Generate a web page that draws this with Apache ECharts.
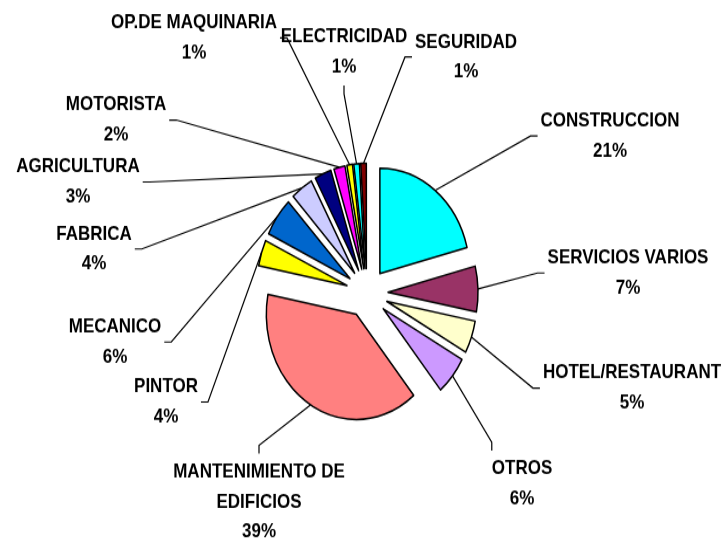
<!DOCTYPE html>
<html><head><meta charset="utf-8">
<script src="https://cdn.jsdelivr.net/npm/echarts@6/dist/echarts.min.js"></script>
<style>html,body{margin:0;padding:0;background:#fff;overflow:hidden}
#wrap{width:727px;height:543px;overflow:hidden;background:#fff}
#c{width:727px;height:464px;transform:scaleY(1.1703);transform-origin:0 0}</style>
</head><body><div id="wrap"><div id="c"></div></div>
<script>
// ---- data ----
const categories = ['CONSTRUCCION','SERVICIOS VARIOS','HOTEL/RESTAURANT','OTROS','MANTENIMIENTO DE\nEDIFICIOS','PINTOR','MECANICO','FABRICA','AGRICULTURA','MOTORISTA','OP.DE MAQUINARIA','ELECTRICIDAD','SEGURIDAD'];
const shares = [21, 7, 5, 6, 39, 4, 6, 4, 3, 2, 1, 1, 1];
const colors = ['#00FFFF','#993366','#FFFFCC','#CC99FF','#FF8080','#FFFF00','#0066CC','#CCCCFF','#000080','#FF00FF','#FFFF00','#00FFFF','#800000'];
// ---- label placement (centre, px in the final picture) and the side the leader line reaches ----
const labelAt = [[610,136],[628,273],[632,388],[522,484],[259,502],[166,402],[115,342],[94,249],[78,182],[116,120],[194,38],[344,52],[466,57]];
const labelSide = ['L','L','L','TL','T','R','R','R','R','R','R','B','L'];

// the original picture is stretched vertically; the chart is drawn unstretched and scaled by SY
const SY = 1.1703;
const CX = 367, CY = 250.4, R = 90, OFF = 21;
const total = shares.reduce((a, b) => a + b, 0);
let acc = 0;
const series = shares.map((v, k) => {
  const mid = (acc + v / 2) / total * 2 * Math.PI; acc += v;
  const cx = CX + OFF * Math.sin(mid), cy = CY - OFF * Math.cos(mid);
  const start = [cx + R * Math.sin(mid), cy - R * Math.cos(mid)];
  return {
    type: 'pie', center: [cx, cy], radius: [0, R], startAngle: 90, clockwise: true,
    silent: true, animation: false, avoidLabelOverlap: false,
    emphasis: { disabled: true },
    label: { show: false }, labelLine: { show: false },
    data: shares.map((val, i) => i === k ? {
      name: categories[i], value: val,
      itemStyle: { color: colors[i], borderColor: '#000', borderWidth: 1.5 },
      label: { show: true, position: 'outside',
        formatter: p => p.name + '\n' + Math.round(p.percent) + '%',
        color: '#000', fontFamily: 'Liberation Sans, Arial, sans-serif', fontWeight: 'bold',
        fontSize: 17, lineHeight: 30 / SY, align: 'center' },
      labelLine: { show: true, smooth: false, lineStyle: { color: '#000', width: 1.2 } }
    } : {
      name: categories[i], value: val,
      itemStyle: { color: 'rgba(0,0,0,0)', borderWidth: 0 },
      label: { show: false }, labelLine: { show: false }
    }),
    labelLayout: function (params) {
      const i = params.dataIndex;
      const lx = labelAt[i][0], ly = labelAt[i][1] / SY;
      const w = params.labelRect.width, h = params.labelRect.height;
      const g = 3, t = 7;
      let e, b;
      switch (labelSide[i]) {
        case 'L': e = [lx - w / 2 - g, ly]; b = [e[0] - t, ly]; break;
        case 'R': e = [lx + w / 2 + g, ly]; b = [e[0] + t, ly]; break;
        case 'T': e = [lx, ly - h / 2 - g]; b = [lx, e[1] - t]; break;
        case 'B': e = [lx, ly + h / 2 + g]; b = [lx, e[1] + t]; break;
        default: e = [lx - w / 2, ly - h / 2 - g]; b = [e[0], e[1] - t];
      }
      return { x: lx, y: ly, align: 'center', verticalAlign: 'middle', labelLinePoints: [start, b, e] };
    }
  };
});

const chart = echarts.init(document.getElementById('c'), null, { renderer: 'canvas' });
chart.setOption({ backgroundColor: '#fff', animation: false, series: series });
</script>
</body></html>
